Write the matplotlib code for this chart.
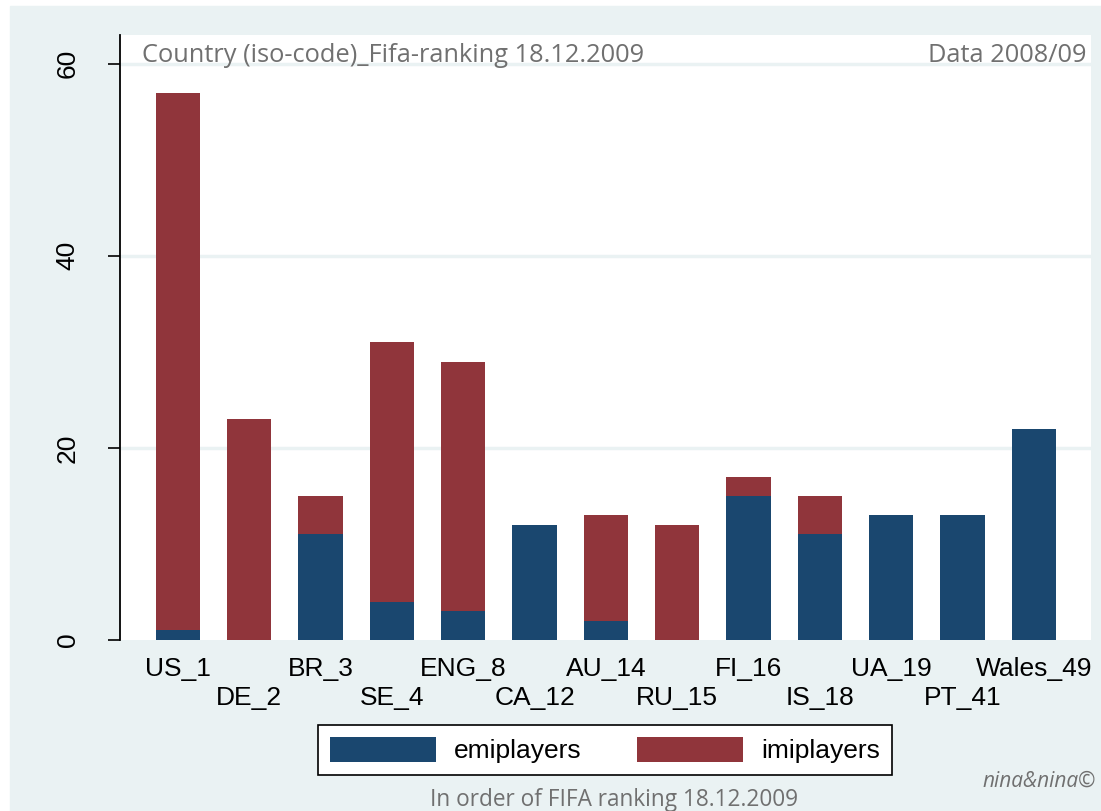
import matplotlib
matplotlib.use("Agg")
import numpy as np
import matplotlib.pyplot as plt
from matplotlib.patches import Rectangle

# data
countries = ["US_1", "DE_2", "BR_3", "SE_4", "ENG_8", "CA_12", "AU_14",
             "RU_15", "FI_16", "IS_18", "UA_19", "PT_41", "Wales_49"]
emiplayers = [1, 0, 11, 4, 3, 12, 2, 0, 15, 11, 13, 13, 22]
imiplayers = [56, 23, 4, 27, 26, 0, 11, 12, 2, 4, 0, 0, 0]
yticks = [0, 20, 40, 60]

navy = "#1A476F"
maroon = "#90353B"
bg = "#EAF2F3"
grey = "#707070"

W, H = 1101, 811
fig = plt.figure(figsize=(W / 100, H / 100), dpi=100)
fig.patch.set_facecolor("white")
fig.patches.append(Rectangle((10 / W, 0), 1 - 10 / W, 1 - 6 / H,
                             transform=fig.transFigure, color=bg, zorder=-10))

ax = fig.add_axes([120 / W, (H - 640) / H, 971 / W, 605 / H])
ax.set_facecolor("white")

x = np.arange(len(countries))
ax.bar(x, emiplayers, width=0.62, color=navy, label="emiplayers", zorder=3)
ax.bar(x, imiplayers, width=0.62, bottom=emiplayers, color=maroon,
       label="imiplayers", zorder=3)

ax.set_xlim(-0.81, 12.8)
ax.set_ylim(0, 63)
ax.set_yticks(yticks)
ax.set_yticklabels([str(v) for v in yticks], rotation=90, va="center",
                   fontsize=19, family="Liberation Sans")
ax.tick_params(axis="y", length=9, width=1.2, pad=20)
for v in yticks[1:]:
    ax.axhline(v, color=bg, lw=2.5, zorder=1)

# staggered labels: even ones on the major ticks, odd ones on minor ticks lower down
ax.set_xticks(x[::2])
ax.set_xticklabels(countries[::2], fontsize=19, family="Liberation Sans")
ax.set_xticks(x[1::2], minor=True)
ax.set_xticklabels(countries[1::2], minor=True, fontsize=19,
                   family="Liberation Sans")
ax.tick_params(axis="x", which="major", length=0, pad=12)
ax.tick_params(axis="x", which="minor", length=0, pad=33)

for s in ["top", "right", "bottom"]:
    ax.spines[s].set_visible(False)
ax.spines["left"].set_linewidth(1.3)

fig.text(142 / W, 1 - 55 / H, "Country (iso-code)_Fifa-ranking 18.12.2009",
         color=grey, fontsize=18.3, family="Open Sans", va="center", ha="left")
fig.text(1087 / W, 1 - 55 / H, "Data 2008/09", color=grey, fontsize=18.3,
         family="Open Sans", va="center", ha="right")
fig.text(614 / W, 1 - 800 / H, "In order of FIFA ranking 18.12.2009",
         color=grey, fontsize=16.3, family="Open Sans", va="center", ha="center")
fig.text(1096 / W, 1 - 781 / H, "nina&nina©", color=grey, fontsize=15,
         family="Open Sans", style="italic", va="center", ha="right")

leg = fig.legend(loc="center", bbox_to_anchor=(605 / W, 1 - 750 / H), ncol=2,
                 prop={"family": "Liberation Sans", "size": 19},
                 fancybox=False, edgecolor="black", framealpha=1,
                 handlelength=4.0, handleheight=1.1, columnspacing=2.1,
                 handletextpad=0.7, borderpad=0.45)
leg.get_frame().set_linewidth(1.2)

fig.savefig("out.png", dpi=100, facecolor=fig.get_facecolor())
